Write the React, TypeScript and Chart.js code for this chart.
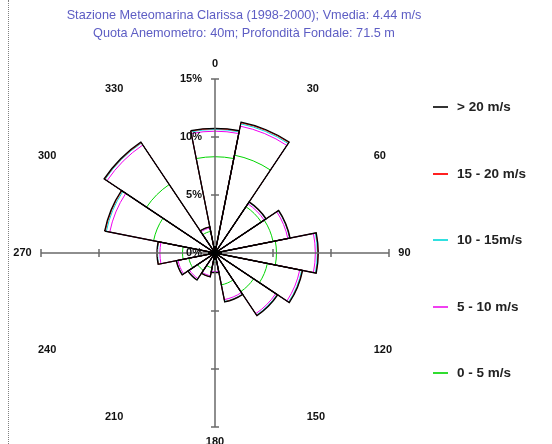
import { useEffect, useRef } from 'react';
import { Chart, registerables } from 'chart.js';

Chart.register(...registerables);

// Sixteen compass sectors, clockwise from north
const directions = ['N', 'NNE', 'NE', 'ENE', 'E', 'ESE', 'SE', 'SSE', 'S', 'SSW', 'SW', 'WSW', 'W', 'WNW', 'NW', 'NNW'];

// Frequency of occurrence (%) of each wind-speed class per sector
const speed0to5 = [8.3, 8.6, 4.8, 5.1, 5.3, 4.6, 4.0, 2.8, 0.8, 1.3, 1.8, 2.3, 2.8, 5.4, 7.1, 1.9];
const speed5to10 = [2.2, 2.55, 0.3, 1.3, 3.35, 2.85, 2.3, 1.3, 0.8, 0.7, 0.85, 0.95, 1.95, 3.85, 4.1, 0.3];
const speed10to15 = [0.15, 0.2, 0.15, 0.15, 0.17, 0.17, 0.13, 0.15, 0.08, 0.08, 0.12, 0.12, 0.2, 0.3, 0.2, 0.08];
const speed15to20 = [0.07, 0.1, 0.03, 0.03, 0.06, 0.06, 0.05, 0.03, 0.01, 0.01, 0.02, 0.02, 0.03, 0.1, 0.05, 0.01];
const speedOver20 = [0.03, 0.05, 0.02, 0.02, 0.02, 0.02, 0.02, 0.02, 0.01, 0.01, 0.01, 0.01, 0.02, 0.05, 0.05, 0.01];

// Classes listed from the strongest wind down, as in the legend
const classLabels = ['> 20 m/s', '15 - 20 m/s', '10 - 15m/s', '5 - 10 m/s', '0 - 5 m/s'];
const classColors = ['#000000', '#ff0000', '#00dede', '#ee00ee', '#00d400'];
const legendColors = ['#333333', '#ff2020', '#30e0e0', '#f040f0', '#30dd30'];
const classSeries = [speedOver20, speed15to20, speed10to15, speed5to10, speed0to5];

// Radial axis ticks (%) and compass bearing labels
const percentTicks = [0, 5, 10, 15];
const percentLabels = ['0%', '5%', '10%', '15%'];
const bearingLabels = ['0', '30', '60', '90', '120', '150', '180', '210', '240', '270', '300', '330'];
const axisMax = 15;
const bearingRing = 15.8;

const titleLines = [
  'Stazione Meteomarina Clarissa (1998-2000); Vmedia: 4.44 m/s',
  'Quota Anemometro: 40m; Profondità Fondale: 71.5 m',
];

// Each petal boundary is the cumulative frequency up to and including that class
function cumulative(classIndex: number): number[] {
  return directions.map((_, d) => {
    let sum = 0;
    for (let k = classSeries.length - 1; k >= classIndex; k--) sum += classSeries[k][d];
    return +sum.toFixed(3);
  });
}

const roseAxes = {
  id: 'roseAxes',
  afterDatasetsDraw(chart: any) {
    const r = chart.scales.r;
    const ctx: CanvasRenderingContext2D = chart.ctx;
    const cx = r.xCenter;
    const cy = r.yCenter;
    const len = r.getDistanceFromCenterForValue(axisMax);
    ctx.save();
    ctx.strokeStyle = '#6a6a6a';
    ctx.lineWidth = 1.5;
    ctx.beginPath();
    ctx.moveTo(cx - len, cy);
    ctx.lineTo(cx + len, cy);
    ctx.moveTo(cx, cy - len);
    ctx.lineTo(cx, cy + len);
    for (const v of percentTicks) {
      if (v === 0) continue;
      const d = r.getDistanceFromCenterForValue(v);
      ctx.moveTo(cx - d, cy - 4);
      ctx.lineTo(cx - d, cy + 4);
      ctx.moveTo(cx + d, cy - 4);
      ctx.lineTo(cx + d, cy + 4);
      ctx.moveTo(cx - 4, cy - d);
      ctx.lineTo(cx + 4, cy - d);
      ctx.moveTo(cx - 4, cy + d);
      ctx.lineTo(cx + 4, cy + d);
    }
    ctx.stroke();

    // origin marker
    ctx.strokeStyle = '#000';
    ctx.lineWidth = 2.5;
    ctx.beginPath();
    ctx.moveTo(cx - 7, cy);
    ctx.lineTo(cx + 7, cy);
    ctx.moveTo(cx, cy - 7);
    ctx.lineTo(cx, cy + 7);
    ctx.stroke();

    ctx.fillStyle = '#111';
    ctx.font = 'bold 11px "Liberation Sans", Arial, sans-serif';
    ctx.textAlign = 'right';
    ctx.textBaseline = 'middle';
    percentTicks.forEach((v, i) => {
      const d = r.getDistanceFromCenterForValue(v);
      ctx.fillText(percentLabels[i], cx - 13, cy - d);
    });

    const ring = r.getDistanceFromCenterForValue(bearingRing);
    bearingLabels.forEach((label, i) => {
      const a = (i * 360) / bearingLabels.length * Math.PI / 180;
      const s = Math.sin(a);
      const c = Math.cos(a);
      const x = cx + ring * s;
      const y = cy - ring * c;
      ctx.textAlign = s > 0.05 ? 'left' : s < -0.05 ? 'right' : 'center';
      ctx.textBaseline = c > 0.05 ? 'bottom' : c < -0.05 ? 'top' : 'middle';
      ctx.fillText(label, x, y);
    });
    ctx.restore();
  },
};

export default function App() {
  const canvasRef = useRef<HTMLCanvasElement>(null);

  useEffect(() => {
    document.body.style.margin = '0';
    const canvas = canvasRef.current;
    if (!canvas) return;
    const chart = new Chart(canvas, {
      type: 'polarArea',
      data: {
        labels: directions,
        datasets: classLabels.map((label, k) => ({
          label,
          data: cumulative(k),
          backgroundColor: 'rgba(0,0,0,0)',
          borderColor: classColors[k],
          borderWidth: k === 0 ? 1.3 : 1,
          borderJoinStyle: 'miter' as const,
        })),
      },
      options: {
        responsive: false,
        animation: false,
        devicePixelRatio: 1,
        events: [],
        layout: { padding: { left: 41, top: 79, right: 162, bottom: 16 } },
        plugins: {
          legend: { display: false },
          title: { display: false },
          tooltip: { enabled: false },
        },
        scales: {
          r: {
            min: 0,
            max: axisMax,
            startAngle: -360 / directions.length / 2,
            ticks: { display: false },
            grid: { display: false },
            angleLines: { display: false },
            pointLabels: { display: false },
          },
        },
      },
      plugins: [roseAxes],
    });
    return () => chart.destroy();
  }, []);

  const legendTop = 107;
  const legendStep = 66.6;

  return (
    <div style={{ position: 'relative', width: 552, height: 444, background: '#fff', overflow: 'hidden' }}>
      <div style={{ position: 'absolute', left: 8, top: 0, height: 444, borderLeft: '1px dotted #808080' }} />
      <canvas ref={canvasRef} width={552} height={444} style={{ position: 'absolute', left: 0, top: 0 }} />
      <div
        style={{
          position: 'absolute',
          left: 0,
          top: 6,
          width: 488,
          textAlign: 'center',
          font: '12.7px/18px "Liberation Sans", Arial, sans-serif',
          color: '#5d5dc4',
          whiteSpace: 'nowrap',
        }}
      >
        {titleLines.map((t) => (
          <div key={t}>{t}</div>
        ))}
      </div>
      {classLabels.map((label, k) => {
        const cy = Math.round(legendTop + k * legendStep);
        return (
          <div key={label}>
            <div
              style={{
                position: 'absolute',
                left: 433,
                top: cy - 1,
                width: 15,
                height: 2,
                background: legendColors[k],
              }}
            />
            <div
              style={{
                position: 'absolute',
                left: 457,
                top: cy - 9,
                height: 18,
                lineHeight: '18px',
                font: 'bold 13.5px/18px "Liberation Sans", Arial, sans-serif',
                color: '#222',
                whiteSpace: 'nowrap',
              }}
            >
              {label}
            </div>
          </div>
        );
      })}
    </div>
  );
}
